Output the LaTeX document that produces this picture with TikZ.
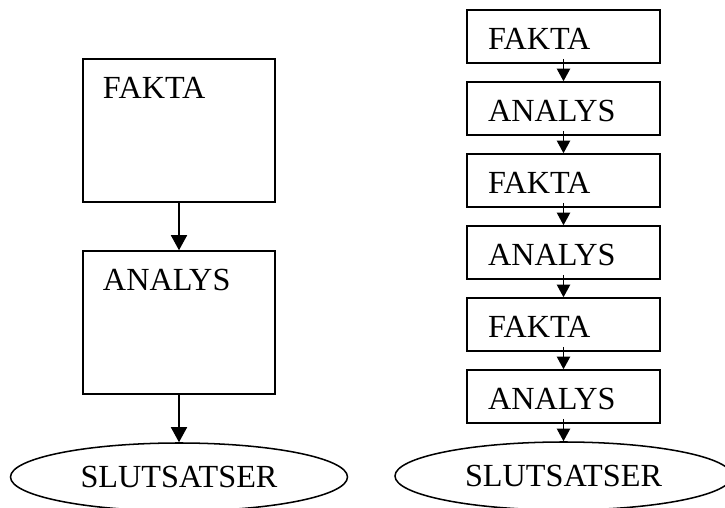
\documentclass[tikz,border=0pt]{standalone}
\usepackage{fontspec}
\setmainfont{Liberation Serif}
\usetikzlibrary{shapes,arrows.meta}

\begin{document}
\begin{tikzpicture}[x=0.03cm, y=-0.03cm, line width=1.3pt,
		font=\fontsize{27.5}{31}\selectfont,
		bigbox/.style={draw, rectangle, minimum width=5.76cm, minimum height=4.29cm, inner sep=0pt},
		smallbox/.style={draw, rectangle, minimum width=5.79cm, minimum height=1.59cm, inner sep=0pt},
		endbox/.style={draw, ellipse, minimum width=10.11cm, minimum height=2.04cm, inner sep=0pt},
		boxtext/.style={anchor=base west, inner sep=0pt},
		bigarrow/.style={-{Triangle[length=0.45cm, width=0.48cm]}},
		smallarrow/.style={-{Triangle[length=0.38cm, width=0.4cm]}}]
		\useasboundingbox (0,0) rectangle (725,508);
		\node[bigbox] (f0) at (179, 130.5) {};
		\node[boxtext] (tf0) at ([xshift=0.6cm, yshift=-1.2cm] f0.north west) {FAKTA};
		\node[bigbox] (a0) at (179, 322.5) {};
		\node[boxtext] (ta0) at ([xshift=0.6cm, yshift=-1.2cm] a0.north west) {ANALYS};
		\node[endbox] (s0) at (179, 477) {SLUTSATSER};
		\draw[bigarrow] (f0.south) -- (a0.north);
		\draw[bigarrow] (a0.south) -- (s0.north);
		\foreach \txt [count=\i] in {FAKTA,ANALYS,FAKTA,ANALYS,FAKTA,ANALYS} {
			\node[smallbox] (r\i) at (563.5, {36.5+72*(\i-1)}) {};
			\node[boxtext] (tr\i) at ([xshift=0.63cm, yshift=-1.2cm] r\i.north west) {\txt};
		}
		\node[endbox] (s1) at (563.5, 476) {SLUTSATSER};
		\foreach \i [evaluate=\i as \j using int(\i+1)] in {1,...,5}
			\draw[smallarrow] ([yshift=0.15cm] r\i.south) -- (r\j.north);
		\draw[smallarrow] ([yshift=0.15cm] r6.south) -- (s1.north);
\end{tikzpicture}
\end{document}
